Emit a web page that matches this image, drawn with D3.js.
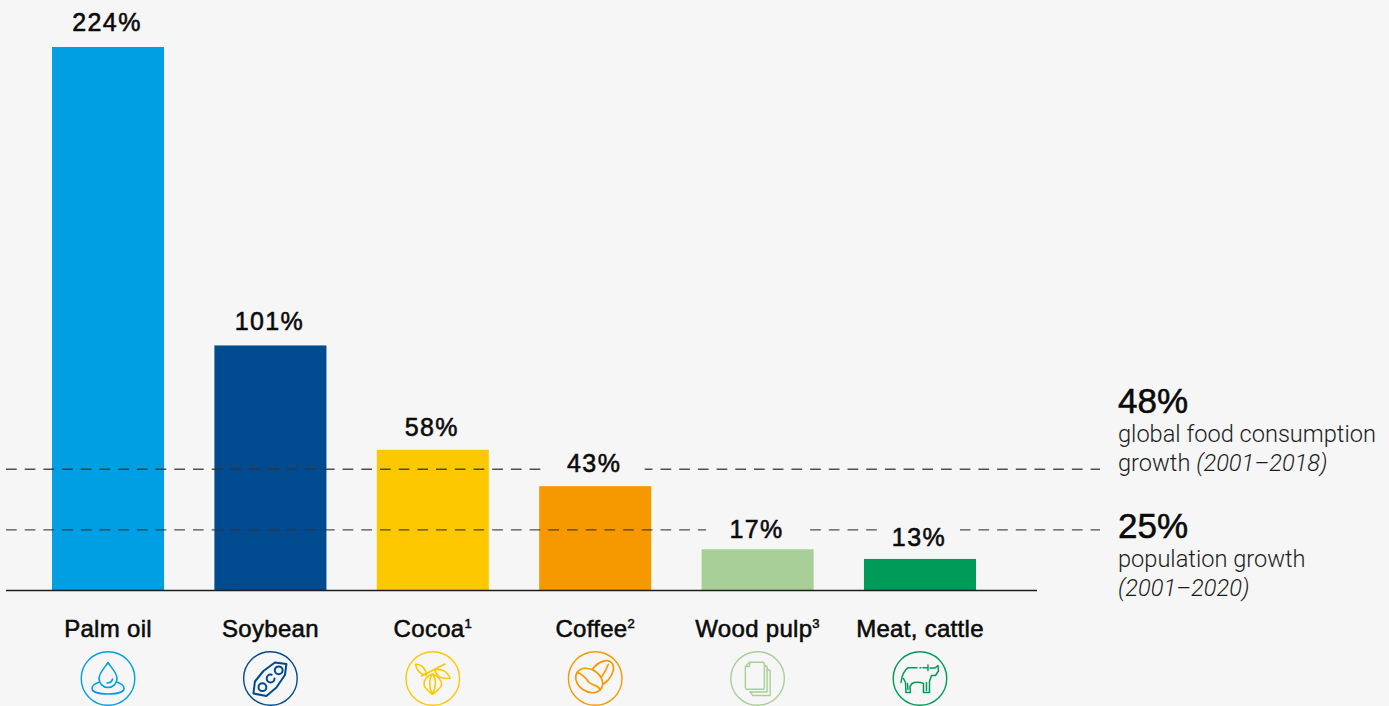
<!DOCTYPE html>
<html>
<head>
<meta charset="utf-8">
<script src="https://cdn.jsdelivr.net/npm/d3@7"></script>
<style>
  html, body { margin: 0; padding: 0; background: #f6f6f6; overflow: hidden; }
  text { font-family: "Liberation Sans", Arial, sans-serif; fill: #0a0a0a; }
  .strong { stroke: #0a0a0a; stroke-width: 0.55px; }
  .light { font-family: Roboto, "Liberation Sans", sans-serif; font-weight: 300; fill: #1c1c1c; }
</style>
</head>
<body>
<div id="chart"></div>
<script>
const categories = ['Palm oil', 'Soybean', 'Cocoa', 'Coffee', 'Wood pulp', 'Meat, cattle'];
const growth = [224, 101, 58, 43, 17, 13];
const footnotes = ['', '', '1', '2', '3', ''];
const barColors = ['#009fe3', '#004b8f', '#fec800', '#f69900', '#a8cf98', '#009b58'];
const icons = ['drop', 'pod', 'cocoa', 'coffee', 'paper', 'cow'];

// the two reference lines, height
const refLevels = [50, 25];
const refValues = ['48%', '25%'];
const refText = [
  ['global food consumption', 'growth ', '(2001\u20132018)'],
  ['population growth', '', '(2001\u20132020)']
];

const WIDTH = 1389, HEIGHT = 706;
const BASE_Y = 590.5, TOP_Y = 47;
const BG = '#f6f6f6';

// label distance above each bar, and the gap it cuts in a dashed line
const labelGap = [16, 15.4, 13.8, 14.2, 11.3, 13];
const labelCut = [0, 0, 0, 101, 101, 82];

const svg = d3.select('#chart').append('svg')
  .attr('width', WIDTH).attr('height', HEIGHT)
  .style('display', 'block');

svg.append('rect').attr('width', WIDTH).attr('height', HEIGHT).attr('fill', BG);

const x = d3.scaleBand().domain(categories).range([52, 976]).paddingInner(0.31);
const y = d3.scaleLinear().domain([0, 224]).range([BASE_Y, TOP_Y]);

// bars
svg.append('g').selectAll('rect')
  .data(categories)
  .enter().append('rect')
  .attr('x', d => x(d))
  .attr('y', (d, i) => y(growth[i]))
  .attr('width', x.bandwidth())
  .attr('height', (d, i) => BASE_Y - y(growth[i]))
  .attr('fill', (d, i) => barColors[i]);

// dashed reference lines
svg.append('g').selectAll('line')
  .data(refLevels)
  .enter().append('line')
  .attr('x1', 6).attr('x2', 1100)
  .attr('y1', d => y(d))
  .attr('y2', d => y(d))
  .attr('stroke', '#333')
  .attr('stroke-opacity', 0.85)
  .attr('stroke-width', 1.4)
  .attr('stroke-dasharray', '10.7 8');

// white-out behind the labels sitting on a line
svg.append('g').selectAll('rect')
  .data(categories.filter((d, i) => labelCut[i] > 0))
  .enter().append('rect')
  .attr('x', d => x(d) + x.bandwidth() / 2 - labelCut[categories.indexOf(d)] / 2 - 1)
  .attr('y', d => y(growth[categories.indexOf(d)]) - labelGap[categories.indexOf(d)] - 22)
  .attr('width', d => labelCut[categories.indexOf(d)])
  .attr('height', 26)
  .attr('fill', BG);

// value labels
svg.append('g').selectAll('text')
  .data(categories)
  .enter().append('text')
  .attr('class', 'strong')
  .attr('x', d => x(d) + x.bandwidth() / 2 - 1)
  .attr('y', (d, i) => y(growth[i]) - labelGap[i])
  .attr('text-anchor', 'middle')
  .attr('font-size', 25)
  .attr('letter-spacing', 1.4)
  .text((d, i) => growth[i] + '%');

// category axis, the domain line is longer than the bars
const axisG = svg.append('g')
  .attr('transform', `translate(0, ${BASE_Y})`)
  .call(d3.axisBottom(x).tickSize(0).tickPadding(29));

axisG.select('.domain').remove();
axisG.append('line')
  .attr('x1', 6).attr('x2', 1037)
  .attr('stroke', '#1d1d1d').attr('stroke-width', 1.3);

axisG.selectAll('.tick text')
  .attr('class', 'strong')
  .attr('font-size', 24)
  .attr('fill', '#0a0a0a')
  .style('font-family', '"Liberation Sans", Arial, sans-serif')
  .attr('letter-spacing', 0.3)
  .each(function(d, i) {
    if (!footnotes[i]) return;
    d3.select(this).append('tspan')
      .attr('font-size', 13)
      .attr('dy', -9)
      .text(footnotes[i]);
  });

// right hand annotations
const notes = svg.append('g').attr('transform', 'translate(1118, 0)');
const noteY = [413, 538];
refValues.forEach((v, i) => {
  notes.append('text')
    .attr('class', 'strong')
    .attr('y', noteY[i])
    .attr('font-size', 35)
    .text(v);
  const l1 = notes.append('text').attr('class', 'light')
    .attr('y', noteY[i] + 29).attr('font-size', 23.6).text(refText[i][0]);
  const l2 = notes.append('text').attr('class', 'light')
    .attr('y', noteY[i] + 58).attr('font-size', 23.6).text(refText[i][1]);
  l2.append('tspan').attr('font-style', 'italic').text(refText[i][2]);
});

// little line icons under the axis
const iconDraw = {
  drop(g) {
    g.attr('stroke-width', 1.6);
    g.append('path').attr('d', 'M0,-16 C-3,-11 -9,-6 -9,0 A9,9 0 0 0 9,0 C9,-6 3,-11 0,-16Z');
    g.append('path').attr('d', 'M-1,4.5 C2,4.5 4,3 4.5,0.5');
    g.append('path').attr('d', 'M-8.5,3.5 C-13,5 -16,7.5 -16,10 C-16,13.5 -9,15.5 0,15.5 C9,15.5 16,13.5 16,10 C16,7.5 13,5 8.5,3.5');
  },
  pod(g) {
    g.attr('stroke-width', 2);
    g.append('path').attr('d', 'M16,-14.5 L4.5,-16 L-7,-7.5 L-15.5,3 L-17,15 L-4,17.5 L6,9 L14.5,-3.5 Z');
    g.append('circle').attr('cx', 8.3).attr('cy', -8.2).attr('r', 3.9);
    g.append('circle').attr('cx', 0.2).attr('cy', 0).attr('r', 3.9).attr('stroke-dasharray', '19 5');
    g.append('circle').attr('cx', -8).attr('cy', 8.7).attr('r', 3.9);
  },
  cocoa(g) {
    g.attr('stroke-width', 1.6);
    g.append('path').attr('d', 'M-11.3,-2.5 L12,-14.5');
    g.append('path').attr('d', 'M-17.3,-14.2 C-12,-15 -7,-10 -6.3,-3.5 C-12,-4 -16,-8 -17.3,-14.2Z');
    g.append('path').attr('d', 'M1.7,-8.5 C8,-10.5 15,-7 17.3,-0.2 C10,1 4,-2 1.7,-8.5Z');
    g.append('path').attr('d', 'M-0.3,-4.5 C-6,-3 -9,2 -8.8,6 C-8.5,10 -4,13 -0.3,15.8 C3,13 8.5,10 8.8,6 C9,2 5,-3 -0.3,-4.5Z');
    g.append('path').attr('d', 'M-0.3,-4.5 C-4,0 -4,9 -0.3,15.8 C3.5,9 3.5,0 -0.3,-4.5');
  },
  coffee(g) {
    g.attr('stroke-width', 1.7);
    g.append('ellipse').attr('rx', 15).attr('ry', 9.5)
      .attr('transform', 'translate(6,-5) rotate(-48)');
    g.append('path').attr('d', 'M-1,6 C4,3 10,-6 13,-14');
    g.append('ellipse').attr('rx', 14.5).attr('ry', 11).attr('fill', BG)
      .attr('transform', 'translate(-6,2) rotate(35)');
    g.append('path').attr('d', 'M-18,-6 C-11,-4 -9,1 -6,4 C-3,7 2,6 5,11');
  },
  paper(g) {
    g.append('path').attr('d', 'M6.8,-13 L9.5,-12 L9.5,13.5 L-8,13.5');
    g.append('path').attr('d', 'M9.5,-9 L12.5,-8 L12.5,17 L-5,17 L-7,13.5');
    g.append('path').attr('d', 'M-8,-16.2 L5,-16.2 Q6.8,-16.2 6.8,-14.4 L6.8,9 Q6.8,10.8 5,10.8 L-10.4,10.8 Q-12.2,10.8 -12.2,9 L-12.2,-12 Z');
    g.append('path').attr('d', 'M-8,-16.2 L-8,-12 L-12.2,-12');
  },
  cow(g) {
    g.attr('stroke-width', 1.5);
    g.append('path').attr('d', 'M-19,4 C-18,-3 -16,-8 -12,-10.8 L-3,-10.8 M0,-10.8 L1,-10.8 M3,-10.8 L8,-10.8 M8,-13.5 L8,-8 M10,-10.5 L15,-10.5 L18,-13 L18.5,-7.5 L15.5,-3 L11.5,-3 L9.5,3 L9.5,14 L3.5,14 L3.5,5 C0,3.5 -5,3.5 -8,5 L-10,8 L-9.5,14 L-14,14 L-14.5,4 L-16.5,0');
    g.append('path').attr('d', 'M-12,11 L-12.5,5 M6.5,12 L6.5,4');
  }
};

const iconG = svg.append('g').selectAll('g')
  .data(categories)
  .enter().append('g')
  .attr('transform', d => `translate(${x(d) + x.bandwidth() / 2}, 678.5)`)
  .attr('fill', 'none')
  .attr('stroke', (d, i) => barColors[i])
  .attr('stroke-width', 1.4)
  .attr('stroke-linejoin', 'round')
  .attr('stroke-linecap', 'round');

iconG.append('circle').attr('r', 26.8);
iconG.append('g').each(function(d, i) {
  iconDraw[icons[i]](d3.select(this));
});
</script>
</body>
</html>
